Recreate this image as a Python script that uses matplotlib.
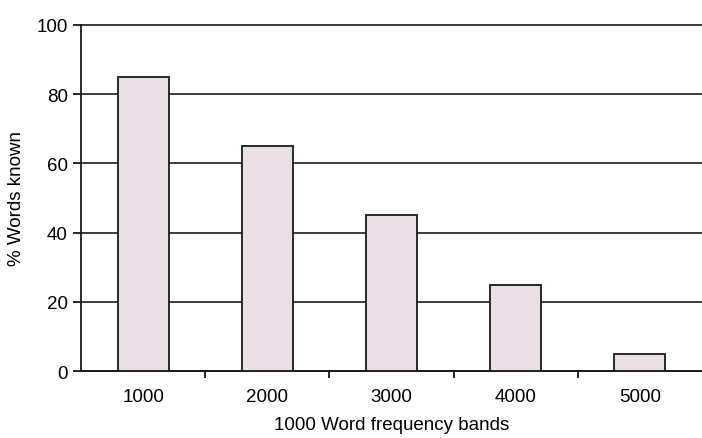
import matplotlib.pyplot as plt
import numpy as np

# Share of words known in each 1000-word frequency band
bands = ["1000", "2000", "3000", "4000", "5000"]
pct_known = [85, 65, 45, 25, 5]

plt.rcParams['font.family'] = ['Liberation Sans', 'DejaVu Sans']

fig = plt.figure(figsize=(7.02, 4.39), dpi=100)
ax = fig.add_axes([0.1154, 0.1526, 0.8846, 0.7882])

x = np.arange(len(bands))
ax.bar(x, pct_known, width=0.41, color='#e9dfe4', edgecolor='#1a1a1a',
       linewidth=1.3, zorder=3)

ax.set_xlim(-0.5, len(bands) - 0.5)
ax.set_ylim(0, 100)
ax.set_yticks(range(0, 101, 20))
ax.yaxis.grid(True, color='#1a1a1a', linewidth=1.2, zorder=0)
ax.set_axisbelow(True)
for line in ax.get_ygridlines():
    line.set_clip_on(False)

# Category labels under the bars, tick marks between them
ax.set_xticks(x)
ax.set_xticklabels(bands, fontsize=13.5)
ax.tick_params(axis='x', which='major', length=0, pad=12)
ax.set_xticks(x[:-1] + 0.5, minor=True)
ax.tick_params(axis='x', which='minor', length=5, width=1.2, direction='out')
ax.tick_params(axis='y', labelsize=13.5, length=6, width=1.2)

for side in ['top', 'right']:
    ax.spines[side].set_visible(False)
for side in ['left', 'bottom']:
    ax.spines[side].set_linewidth(1.3)
    ax.spines[side].set_color('#1a1a1a')

ax.set_xlabel('1000 Word frequency bands', fontsize=13.5, labelpad=8)
ax.set_ylabel('% Words known', fontsize=13.5, labelpad=8)

fig.savefig('out.png', dpi=100)
